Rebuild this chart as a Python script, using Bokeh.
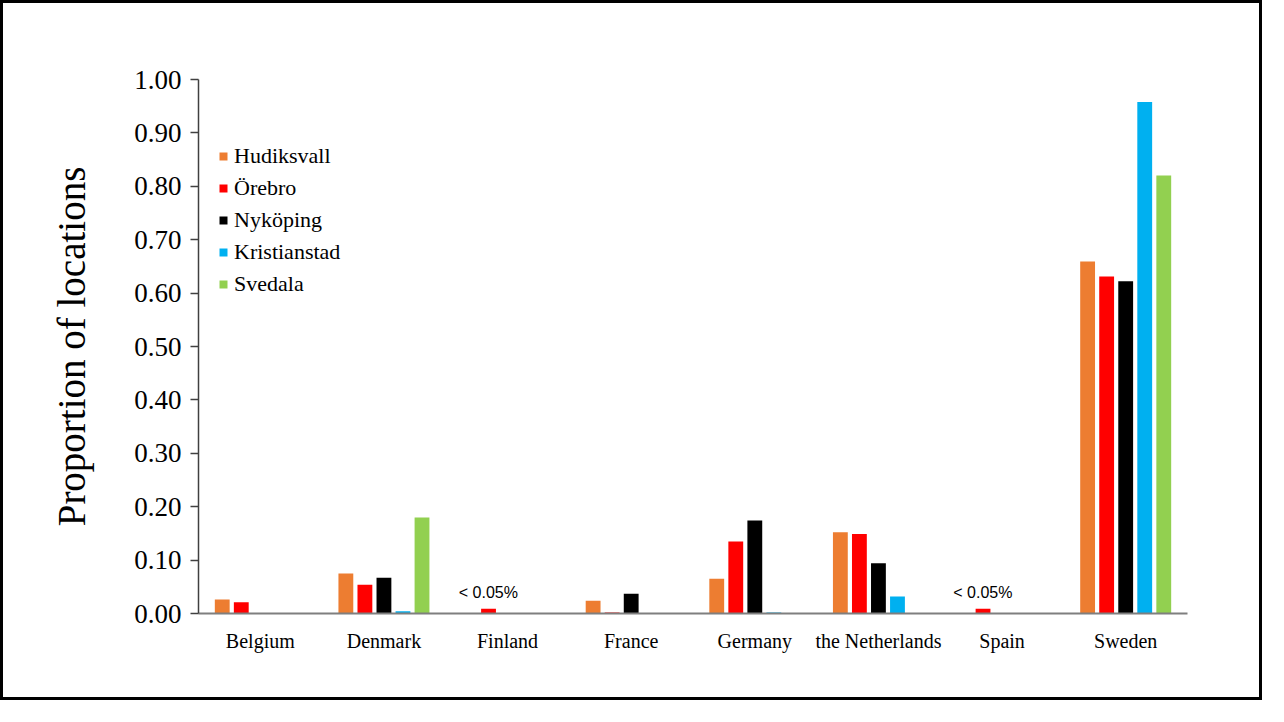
from bokeh.plotting import figure
from bokeh.models import ColumnDataSource, FactorRange, NumeralTickFormatter, Legend
from bokeh.transform import dodge
from bokeh.core.properties import value
from bokeh.embed import file_html
from bokeh.resources import INLINE

countries = ["Belgium", "Denmark", "Finland", "France", "Germany",
             "the Netherlands", "Spain", "Sweden"]
hudiksvall = [0.026, 0.075, 0.0, 0.024, 0.065, 0.152, 0.0, 0.659]
orebro = [0.021, 0.054, 0.009, 0.002, 0.135, 0.149, 0.009, 0.631]
nykoping = [0.0, 0.067, 0.0, 0.037, 0.174, 0.094, 0.0, 0.622]
kristianstad = [0.0, 0.004, 0.0, 0.0, 0.002, 0.032, 0.0, 0.958]
svedala = [0.0, 0.180, 0.0, 0.0, 0.0, 0.0, 0.0, 0.820]

series_names = ["Hudiksvall", "Örebro", "Nyköping", "Kristianstad", "Svedala"]
series_keys = ["hud", "ore", "nyk", "kri", "sve"]
series_colors = ["#ED7D31", "#FF0000", "#000000", "#00B0F0", "#92D050"]

note_countries = ["Finland", "Spain"]
note_text = ["< 0.05%", "< 0.05%"]

y_ticks = [0.0, 0.1, 0.2, 0.3, 0.4, 0.5, 0.6, 0.7, 0.8, 0.9, 1.0]

source = ColumnDataSource(data=dict(
    countries=countries, hud=hudiksvall, ore=orebro, nyk=nykoping,
    kri=kristianstad, sve=svedala))

SERIF = "Liberation Serif"

p = figure(x_range=FactorRange(*countries), y_range=(0, 1.0),
           width=1262, height=700, output_backend="svg", toolbar_location=None,
           min_border_left=195, min_border_right=78, min_border_top=76,
           min_border_bottom=90)
p.styles = {"border": "3px solid #000000"}
p.background_fill_color = "white"
p.border_fill_color = "white"
p.outline_line_color = None
p.grid.visible = False

step = 0.154
items = []
for i, (key, name, color) in enumerate(zip(series_keys, series_names, series_colors)):
    r = p.vbar(x=dodge("countries", (i - 2) * step, range=p.x_range), top=key,
               width=0.12, source=source, fill_color=color, line_color=None)
    items.append((name, [r]))

note_src = ColumnDataSource(data=dict(x=note_countries, y=[0.04] * len(note_countries),
                                      t=note_text))
p.text(x=dodge("x", -0.155, range=p.x_range), y="y", text="t", source=note_src,
       text_font=value("Liberation Sans"), text_font_size="16px",
       text_align="center", text_baseline="middle", text_color="#000000")

legend = Legend(items=items, location=(20, 316), padding=0, margin=0, spacing=6,
                glyph_width=10, glyph_height=10, label_height=20, label_standoff=6,
                label_text_font=SERIF, label_text_font_size="22px",
                label_text_color="#000000", border_line_color=None,
                background_fill_alpha=0)
p.add_layout(legend)

# y axis
p.yaxis.ticker = y_ticks
p.yaxis.formatter = NumeralTickFormatter(format="0.00")
p.yaxis.major_label_text_font = SERIF
p.yaxis.major_label_text_font_size = "27px"
p.yaxis.major_label_text_color = "#000000"
p.yaxis.axis_line_color = "#404040"
p.yaxis.axis_line_width = 1.5
p.yaxis.major_tick_line_color = "#404040"
p.yaxis.major_tick_line_width = 1.5
p.yaxis.major_tick_out = 8
p.yaxis.major_tick_in = 0
p.yaxis.minor_tick_line_color = None
p.yaxis.major_label_standoff = 9
p.yaxis.axis_label = "Proportion of locations"
p.yaxis.axis_label_text_font = SERIF
p.yaxis.axis_label_text_font_size = "39px"
p.yaxis.axis_label_text_font_style = "normal"
p.yaxis.axis_label_text_color = "#000000"
p.yaxis.axis_label_standoff = 38

# x axis
p.xaxis.axis_line_color = "#7F7F7F"
p.xaxis.axis_line_width = 2
p.xaxis.major_tick_line_color = None
p.xaxis.minor_tick_line_color = None
p.xaxis.major_label_text_font = SERIF
p.xaxis.major_label_text_font_size = "20px"
p.xaxis.major_label_text_color = "#000000"
p.xaxis.major_label_standoff = 10
p.xaxis.group_text_font_size = "0px"

open("out.html", "w").write(file_html(p, INLINE))
